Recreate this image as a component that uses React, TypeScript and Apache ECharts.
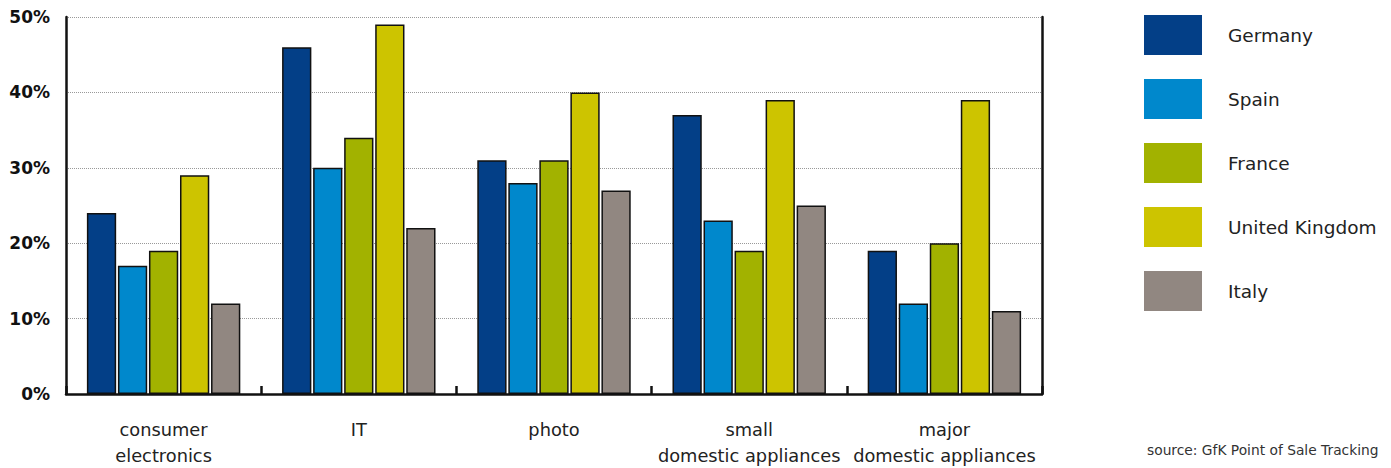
import React, { useEffect, useRef } from "react";
import * as echarts from "echarts";

const categories = [
  "consumer\nelectronics",
  "IT",
  "photo",
  "small\ndomestic appliances",
  "major\ndomestic appliances",
];
const seriesNames = ["Germany", "Spain", "France", "United Kingdom", "Italy"];
const germany = [24, 46, 31, 37, 19];
const spain = [17, 30, 28, 23, 12];
const france = [19, 34, 31, 19, 20];
const uk = [29, 49, 40, 39, 39];
const italy = [12, 22, 27, 25, 11];
const colors = ["#033f87", "#0088cc", "#a2b200", "#cdc400", "#918781"];
const yTicks = [0, 10, 20, 30, 40, 50];
const sourceText = "source: GfK Point of Sale Tracking";

const FONT = "'DejaVu Sans', sans-serif";

export default function App() {
  const ref = useRef<HTMLDivElement>(null);
  useEffect(() => {
    document.body.style.margin = "0";
    const chart = echarts.init(ref.current!, undefined, { renderer: "svg" });
    const values = [germany, spain, france, uk, italy];
    chart.setOption({
      animation: false,
      textStyle: { fontFamily: FONT },
      grid: { left: 66, right: 349, top: 17, bottom: 72, containLabel: false },
      legend: {
        orient: "vertical",
        left: 1144,
        top: 15,
        padding: 0,
        itemWidth: 58,
        itemHeight: 40,
        itemGap: 24,
        icon: "rect",
        data: seriesNames,
        itemStyle: { borderWidth: 0 },
        textStyle: { fontSize: 18.5, color: "#222", fontFamily: FONT, padding: [0, 0, 6, 21] },
      },
      xAxis: {
        type: "category",
        data: categories,
        axisLine: { show: true, lineStyle: { color: "#111", width: 2.5 } },
        axisTick: { show: true, inside: true, length: 8, interval: 0, lineStyle: { color: "#111", width: 2.5 } },
        axisLabel: { interval: 0, fontSize: 17.8, color: "#222", lineHeight: 26, margin: 22, fontFamily: FONT },
        splitLine: { show: false },
      },
      yAxis: [
        {
          type: "value",
          min: yTicks[0],
          max: yTicks[yTicks.length - 1],
          interval: 10,
          axisLine: { show: true, lineStyle: { color: "#111", width: 2.5 } },
          axisTick: { show: false },
          axisLabel: {
            formatter: "{value}%",
            fontSize: 17,
            fontWeight: 600,
            color: "#111",
            margin: 16,
            fontFamily: FONT,
          },
          splitLine: { show: true, lineStyle: { color: "#999", type: "dotted", width: 1 } },
        },
        {
          type: "value",
          position: "right",
          min: 0,
          max: 50,
          interval: 10,
          axisLine: { show: true, lineStyle: { color: "#111", width: 2.5 } },
          axisTick: { show: false },
          axisLabel: { show: false },
          splitLine: { show: false },
        },
      ],
      series: seriesNames.map((name, i) => ({
        name,
        type: "bar",
        data: values[i],
        barWidth: "15%",
        barGap: "6%",
        itemStyle: { color: colors[i], borderColor: "#111", borderWidth: 1.5 },
      })),
      graphic: [
        {
          type: "text",
          left: 1147,
          top: 443,
          style: { text: sourceText, fontSize: 13.8, fill: "#333", fontFamily: FONT },
        },
      ],
    });
    return () => chart.dispose();
  }, []);
  return <div ref={ref} style={{ width: 1391, height: 468 }} />;
}
